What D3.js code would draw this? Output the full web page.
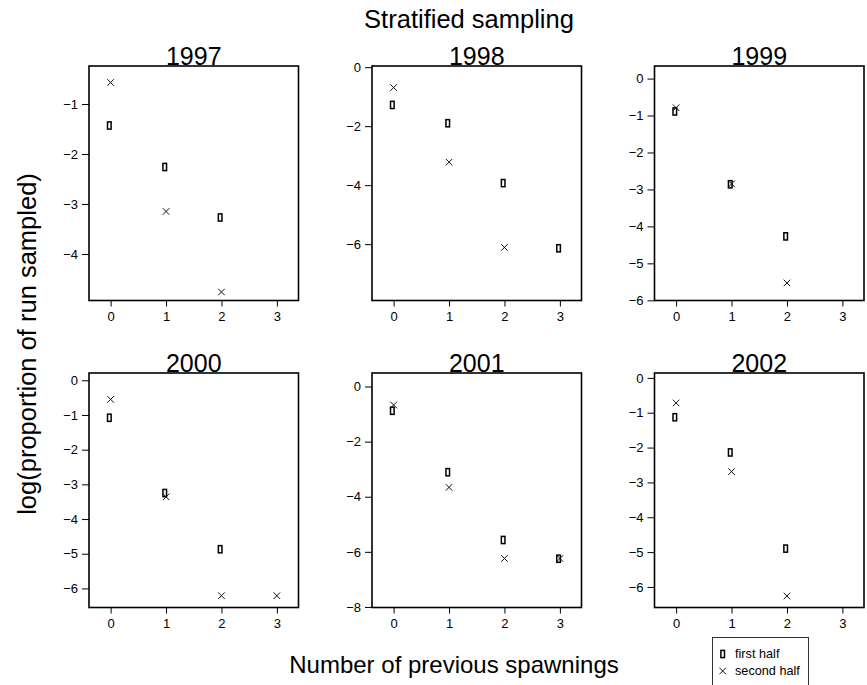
<!DOCTYPE html>
<html>
<head>
<meta charset="utf-8">
<script src="https://cdn.jsdelivr.net/npm/d3@7"></script>
<style>
  body { margin: 0; background: #fff; }
  svg { display: block; font-family: "Liberation Sans", Arial, sans-serif; }
</style>
</head>
<body>
<svg id="chart" width="867" height="685"></svg>
<script>
// Number of previous spawnings (x categories)
const spawnings = [0, 1, 2, 3];
const years = ["1997", "1998", "1999", "2000", "2001", "2002"];

// log(proportion of run sampled), one row per year, one value per spawning count
const firstHalf = [
  [-1.43, -2.26, -3.27, null],
  [-1.28, -1.90, -3.93, -6.14],
  [-0.89, -2.86, -4.27, null],
  [-1.08, -3.25, -4.87, null],
  [-0.88, -3.11, -5.57, -6.25],
  [-1.13, -2.14, -4.90, null]
];
const secondHalf = [
  [-0.57, -3.15, -4.76, null],
  [-0.69, -3.22, -6.11, null],
  [-0.79, -2.85, -5.53, null],
  [-0.55, -3.36, -6.21, -6.21],
  [-0.67, -3.66, -6.24, -6.24],
  [-0.72, -2.69, -6.26, null]
];

// y-axis tick labels for each panel
const yTicks = [
  [-1, -2, -3, -4],
  [0, -2, -4, -6],
  [0, -1, -2, -3, -4, -5, -6],
  [0, -1, -2, -3, -4, -5, -6],
  [0, -2, -4, -6, -8],
  [0, -1, -2, -3, -4, -5, -6]
];
// y-axis limits for each panel
const yLimits = [
  [-4.93, -0.24],
  [-7.91, 0.04],
  [-6.005, 0.34],
  [-6.55, 0.21],
  [-8.02, 0.49],
  [-6.59, 0.14]
];
const xLimits = [-0.39, 3.39];

const legendLabels = ["first half", "second half"];

const svg = d3.select("#chart");

// panel grid geometry
const colX = [89, 372, 654.5];
const rowY = [66, 373];
const pw = 209.5, ph = 234.5;

const minus = s => String(s).replace("-", "\u2212");

function drawRectMark(g, cx, cy) {
  g.append("rect")
    .attr("x", cx - 1.3 - 1.8).attr("y", cy - 3.6)
    .attr("width", 3.6).attr("height", 7.2)
    .attr("fill", "none").attr("stroke", "#000").attr("stroke-width", 1.5);
}
function drawCross(g, cx, cy) {
  const s = 3.3;
  g.append("path")
    .attr("d", `M${cx - s},${cy - s}L${cx + s},${cy + s}M${cx - s},${cy + s}L${cx + s},${cy - s}`)
    .attr("stroke", "#111").attr("stroke-width", 1).attr("fill", "none");
}

years.forEach((yr, i) => {
  const col = i % 3, row = Math.floor(i / 3);
  const g = svg.append("g").attr("transform", `translate(${colX[col]},${rowY[row]})`);

  const x = d3.scaleLinear().domain(xLimits).range([0, pw]);
  const y = d3.scaleLinear().domain(yLimits[i]).range([ph, 0]);

  // axes
  const xa = g.append("g").attr("transform", `translate(0,${ph})`)
    .call(d3.axisBottom(x).tickValues(spawnings).tickSize(6).tickPadding(5).tickFormat(d3.format("d")));
  const ya = g.append("g")
    .call(d3.axisLeft(y).tickValues(yTicks[i]).tickSize(7).tickPadding(4).tickFormat(d => minus(d)));
  [xa, ya].forEach(a => {
    a.select(".domain").remove();
    a.selectAll("line").attr("stroke", "#000").attr("stroke-width", 1);
    a.selectAll("text").attr("font-size", 13).attr("fill", "#000")
      .attr("font-family", "Liberation Sans, Arial, sans-serif");
  });

  // points
  const marks = g.append("g");
  spawnings.forEach((s, j) => {
    const v1 = firstHalf[i][j];
    if (v1 !== null) drawRectMark(marks, x(s), y(v1));
    const v2 = secondHalf[i][j];
    if (v2 !== null) drawCross(marks, x(s), y(v2));
  });

  // frame
  g.append("rect").attr("x", 0).attr("y", 0).attr("width", pw).attr("height", ph)
    .attr("fill", "none").attr("stroke", "#000").attr("stroke-width", 1.6);

  // panel title
  g.append("text").attr("x", pw / 2).attr("y", -1.5)
    .attr("text-anchor", "middle").attr("font-size", 25).attr("fill", "#000")
    .text(yr);
});

// overall titles
svg.append("text").attr("x", 469).attr("y", 27.5)
  .attr("text-anchor", "middle").attr("font-size", 25.5).text("Stratified sampling");
svg.append("text").attr("x", 454).attr("y", 673)
  .attr("text-anchor", "middle").attr("font-size", 24).text("Number of previous spawnings");
svg.append("text").attr("transform", "translate(36,344) rotate(-90)")
  .attr("text-anchor", "middle").attr("font-size", 25.5).text("log(proportion of run sampled)");

// legend
const lg = svg.append("g");
lg.append("rect").attr("x", 712.5).attr("y", 637.5).attr("width", 96).attr("height", 60)
  .attr("fill", "#fff").attr("stroke", "#333").attr("stroke-width", 1);
const legY = [654, 671];
drawRectMark(lg, 724, legY[0]);
drawCross(lg, 722.7, legY[1]);
legendLabels.forEach((t, k) => {
  lg.append("text").attr("x", 735).attr("y", legY[k]).attr("dy", "0.35em")
    .attr("font-size", 12.7).text(t);
});
</script>
</body>
</html>
